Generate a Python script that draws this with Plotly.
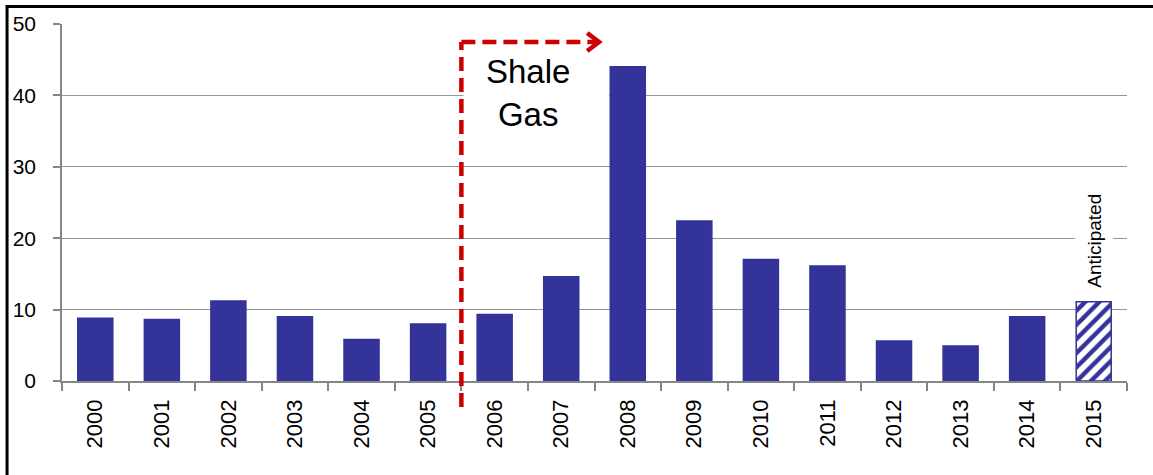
import plotly.graph_objects as go

years = ["2000", "2001", "2002", "2003", "2004", "2005", "2006", "2007",
         "2008", "2009", "2010", "2011", "2012", "2013", "2014", "2015"]
values = [8.8, 8.6, 11.2, 9.0, 5.8, 8.0, 9.3, 14.6,
          44.0, 22.4, 17.0, 16.1, 5.6, 4.9, 9.0, 11.1]
anticipated = [False] * 15 + [True]
y_ticks = [0, 10, 20, 30, 40, 50]

BLUE = "#333399"
RED = "#CC0000"
FONT = "Liberation Sans, Arial, sans-serif"

fig = go.Figure()
fig.add_trace(go.Bar(
    x=years,
    y=values,
    marker=dict(
        color=BLUE,
        line=dict(color=BLUE, width=1.5),
        pattern=dict(
            shape=["/" if a else "" for a in anticipated],
            fillmode="overlay",
            fgcolor=BLUE,
            fgopacity=1,
            bgcolor="white",
            size=10,
            solidity=0.45,
        ),
    ),
    hoverinfo="x+y",
))

fig.update_layout(
    width=1153, height=475,
    margin=dict(l=62, r=26, t=24, b=94),
    paper_bgcolor="white", plot_bgcolor="white",
    bargap=0.474,
    showlegend=False,
    font=dict(family=FONT, color="black"),
)
fig.update_xaxes(
    type="category",
    showline=True, linecolor="#868686", linewidth=1.5,
    ticks="outside", tickson="boundaries", ticklen=8, tickcolor="#868686", tickwidth=1.5,
    tickangle=-90, tickfont=dict(size=22, family=FONT, color="black"),
    ticklabelstandoff=8,
    showgrid=False,
)
fig.update_yaxes(
    range=[0, 50], tickvals=y_ticks,
    showline=True, linecolor="#868686", linewidth=1.5,
    ticks="outside", ticklen=7, tickcolor="#868686", tickwidth=1.5,
    showgrid=True, gridcolor="#969696", gridwidth=1.3,
    tickfont=dict(size=21, family=FONT, color="black"),
    ticklabelstandoff=13,
    zeroline=False,
)

# frame around figure
fig.add_shape(type="rect", xref="paper", yref="paper",
              x0=-0.0516, x1=1.1, y0=-0.4, y1=1.049,
              line=dict(color="black", width=3), layer="above")

# white backdrop behind the "Shale Gas" label (hides gridline, below bars)
fig.add_shape(type="rect", xref="x", yref="y",
              x0=5.53, x1=7.72, y0=35.5, y1=45.5,
              fillcolor="white", line=dict(width=0), layer="between")

# dashed red arrow
fig.add_shape(type="line", xref="x", yref="paper",
              x0=5.5, x1=5.5, y0=-0.073, y1=0.9496,
              line=dict(color=RED, width=4.5, dash="14px,7px"), layer="above")
fig.add_shape(type="line", xref="x", yref="paper",
              x0=5.5, x1=7.52, y0=0.9496, y1=0.9496,
              line=dict(color=RED, width=4.5, dash="14px,7px"), layer="above")
fig.add_shape(type="path", xref="x", yref="y",
              path="M 7.39 48.74 L 7.568 47.48 L 7.39 46.22",
              line=dict(color=RED, width=4.5), layer="above")

fig.add_annotation(x=6.5, y=40.3, xref="x", yref="y",
                   text="Shale<br>Gas", showarrow=False,
                   font=dict(size=33, family=FONT, color="black"))
fig.add_annotation(x=15, y=19.6, xref="x", yref="y",
                   text="Anticipated", showarrow=False, textangle=-90,
                   font=dict(size=19, family=FONT, color="black"),
                   bgcolor="white", borderpad=8)

fig.write_html("out.html",
               config={"displayModeBar": False},
               post_script="document.body.style.margin='0';")
